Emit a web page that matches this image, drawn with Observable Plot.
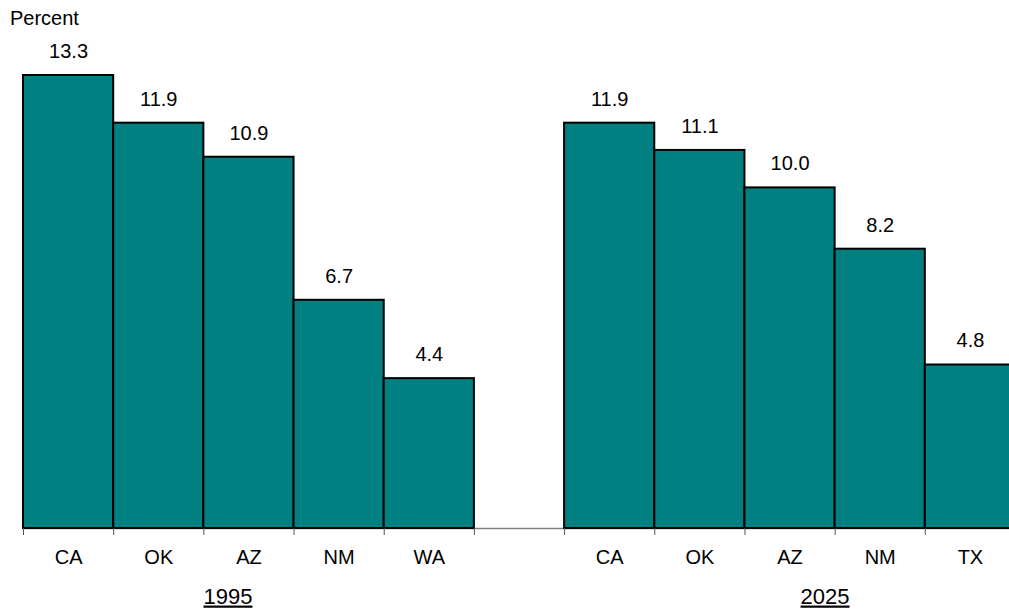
<!DOCTYPE html>
<html>
<head>
<meta charset="utf-8">
<script src="https://cdn.jsdelivr.net/npm/d3@7"></script>
<script src="https://cdn.jsdelivr.net/npm/@observablehq/plot@0.6"></script>
<style>
  html, body { margin: 0; padding: 0; background: white; overflow: hidden; }
  #wrap { position: relative; width: 1009px; height: 612px; }
  #ylabel { position: absolute; left: 10px; top: 7px; font: 20px "Liberation Sans", Arial, sans-serif; color: #000; }
  svg text { font-family: "Liberation Sans", Arial, sans-serif; }
</style>
</head>
<body>
<div id="wrap"><div id="ylabel">Percent</div></div>
<script>
const groups = ["1995", "2025"];
const states1995 = ["CA", "OK", "AZ", "NM", "WA"];
const values1995 = [13.3, 11.9, 10.9, 6.7, 4.4];
const states2025 = ["CA", "OK", "AZ", "NM", "TX"];
const values2025 = [11.9, 11.1, 10.0, 8.2, 4.8];

// slot index: group 1 uses slots 0..4, one empty slot, group 2 uses 6..10
const rows = [
  ...states1995.map((s, k) => ({group: groups[0], state: s, value: values1995[k], i: k})),
  ...states2025.map((s, k) => ({group: groups[1], state: s, value: values2025[k], i: states1995.length + 1 + k}))
];
const nSlots = states1995.length + 1 + states2025.length;
const tickSlots = d3.range(0, nSlots);
const year1 = [{year: groups[0], x: states1995.length / 2}];
const year2 = [{year: groups[1], x: states1995.length + 1 + states2025.length / 2}];

const chart = Plot.plot({
  width: 1009,
  height: 612,
  marginTop: 75,
  marginBottom: 84,
  marginLeft: 23,
  marginRight: 0,
  style: {fontSize: "20px", fontFamily: "Liberation Sans, Arial, sans-serif", color: "#000", overflow: "visible"},
  x: {type: "linear", domain: [0, nSlots], range: [23, 1015], axis: null},
  y: {domain: [0, d3.max([...values1995, ...values2025])], axis: null},
  marks: [
    Plot.ruleY([0], {x1: 0, x2: nSlots, stroke: "#808080", strokeWidth: 1.5}),
    Plot.rectY(rows, {x1: "i", x2: d => d.i + 1, y: "value", fill: "#008080", stroke: "#000", strokeWidth: 2}),
    Plot.axisX(tickSlots, {tickSize: 7, tickFormat: () => "", stroke: "#555", label: null}),
    Plot.text(rows, {x: d => d.i + 0.5, y: 0, text: "state", dy: 29, fontSize: 20, fill: "#000"}),
    Plot.text(rows, {x: d => d.i + 0.5, y: "value", text: d => d.value.toFixed(1), dy: -24, fontSize: 20, fill: "#000"}),
    Plot.text(year1, {x: "x", y: 0, text: "year", dx: -21, dy: 68, fontSize: 22, fill: "#000"}),
    Plot.text(year2, {x: "x", y: 0, text: "year", dx: 35, dy: 68, fontSize: 22, fill: "#000"})
  ]
});

// underline the year labels
d3.select(chart).selectAll("text").each(function() {
  if (groups.includes(this.textContent)) d3.select(this).style("text-decoration", "underline");
});
document.getElementById("wrap").prepend(chart);
</script>
</body>
</html>
